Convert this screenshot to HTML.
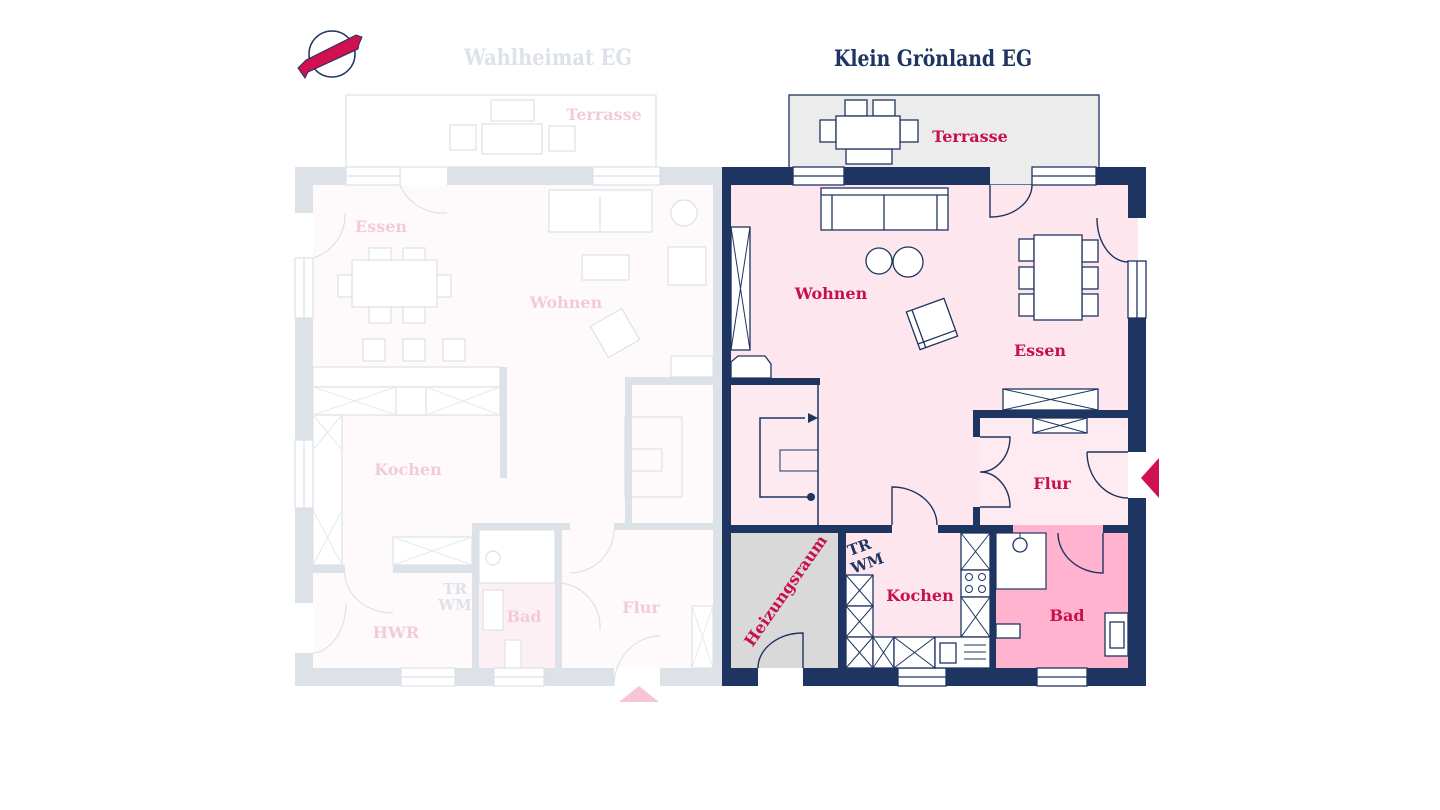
<!DOCTYPE html>
<html><head><meta charset="utf-8"><style>
html,body{margin:0;padding:0;background:#fff;}
svg{display:block;}
.t{font-family:"DejaVu Serif","Liberation Serif",serif;font-weight:bold;}
</style></head><body>
<svg width="1440" height="810" viewBox="0 0 1440 810" xmlns="http://www.w3.org/2000/svg">
<!-- logo -->
<circle cx="332" cy="54" r="23" fill="none" stroke="#1e3461" stroke-width="1.5"/>
<polygon points="298,68 306,60 356,35 362,37 359,44 358,49 308,72 305,78" fill="#d0104f" stroke="#1e3461" stroke-width="1"/>
<!-- titles -->
<text x="548" y="65" text-anchor="middle" class="t" font-size="22" fill="#dde1e8" textLength="168" lengthAdjust="spacingAndGlyphs">Wahlheimat EG</text>
<text x="933" y="66" text-anchor="middle" class="t" font-size="22" fill="#1e3461" textLength="198" lengthAdjust="spacingAndGlyphs">Klein Grönland EG</text>

<!-- ============ LEFT (faded) ============ -->
<g stroke="#dde1e8" fill="none" stroke-width="1.2">
<rect x="346" y="95" width="310" height="72" fill="#fff"/>
<rect x="313" y="185" width="400" height="483" fill="#fefafb" stroke="none"/>
<rect x="479" y="583" width="76" height="85" fill="#fdf0f4" stroke="none"/>
</g>
<g fill="#dde1e8">
<rect x="295" y="167" width="51" height="18"/>
<rect x="447" y="167" width="146" height="18"/>
<rect x="660" y="167" width="62" height="18"/>
<rect x="295" y="167" width="18" height="46"/>
<rect x="295" y="318" width="18" height="122"/>
<rect x="295" y="508" width="18" height="95"/>
<rect x="295" y="653" width="18" height="33"/>
<rect x="295" y="668" width="106" height="18"/>
<rect x="455" y="668" width="39" height="18"/>
<rect x="544" y="668" width="70" height="18"/>
<rect x="660" y="668" width="62" height="18"/>
<rect x="500" y="367" width="7" height="111"/>
<rect x="625" y="377" width="7" height="146"/>
<rect x="625" y="377" width="88" height="8"/>
<rect x="614" y="523" width="99" height="7"/>
<rect x="472" y="523" width="98" height="7"/>
<rect x="472" y="523" width="7" height="145"/>
<rect x="555" y="530" width="7" height="138"/>
<rect x="313" y="565" width="32" height="8"/>
<rect x="393" y="565" width="79" height="8"/>
<rect x="713" y="167" width="9" height="519"/>
</g>
<g stroke="#dde1e8" fill="#fff" stroke-width="1.2">
<rect x="346" y="167" width="54" height="18"/><line x1="346" y1="176" x2="400" y2="176"/>
<rect x="593" y="167" width="67" height="18"/><line x1="593" y1="176" x2="660" y2="176"/>
<rect x="295" y="258" width="18" height="60"/><line x1="304" y1="258" x2="304" y2="318"/>
<rect x="295" y="440" width="18" height="68"/><line x1="304" y1="440" x2="304" y2="508"/>
<rect x="401" y="668" width="54" height="18"/><line x1="401" y1="677" x2="455" y2="677"/>
<rect x="494" y="668" width="50" height="18"/><line x1="494" y1="677" x2="544" y2="677"/>
<rect x="491" y="100" width="43" height="21"/>
<rect x="482" y="124" width="60" height="30"/>
<rect x="450" y="125" width="26" height="25"/><rect x="549" y="126" width="26" height="25"/>
<rect x="549" y="190" width="103" height="42"/><line x1="600" y1="197" x2="600" y2="232"/>
<circle cx="684" cy="213" r="13"/>
<rect x="668" y="247" width="38" height="38"/>
<rect x="582" y="255" width="47" height="25"/>
<rect x="597" y="315" width="36" height="36" transform="rotate(-30 615 333)"/>
<rect x="352" y="260" width="85" height="47"/>
<rect x="369" y="248" width="22" height="12"/><rect x="403" y="248" width="22" height="12"/>
<rect x="369" y="307" width="22" height="16"/><rect x="403" y="307" width="22" height="16"/>
<rect x="338" y="275" width="14" height="22"/><rect x="437" y="275" width="14" height="22"/>
<rect x="363" y="339" width="22" height="22"/><rect x="403" y="339" width="22" height="22"/><rect x="443" y="339" width="22" height="22"/>
<rect x="313" y="367" width="187" height="20"/><rect x="313" y="387" width="187" height="28"/>
<rect x="396" y="387" width="30" height="28"/>
<rect x="313" y="415" width="29" height="150"/>
<rect x="393" y="537" width="79" height="28"/>
<rect x="479" y="530" width="76" height="53"/>
<circle cx="493" cy="558" r="7"/>
<rect x="483" y="590" width="20" height="40"/>
<rect x="505" y="640" width="16" height="28"/>
<rect x="692" y="606" width="21" height="62"/>
<rect x="625" y="417" width="57" height="80" fill="none"/>
<rect x="625" y="449" width="37" height="22" fill="none"/>
<rect x="671" y="356" width="42" height="21"/>
</g>
<g stroke="#e6e9ee" fill="none" stroke-width="1">
<line x1="313" y1="387" x2="396" y2="415"/><line x1="396" y1="387" x2="313" y2="415"/>
<line x1="426" y1="387" x2="500" y2="415"/><line x1="500" y1="387" x2="426" y2="415"/>
<line x1="313" y1="415" x2="342" y2="450"/><line x1="342" y1="415" x2="313" y2="450"/>
<line x1="313" y1="510" x2="342" y2="565"/><line x1="342" y1="510" x2="313" y2="565"/>
<line x1="393" y1="537" x2="472" y2="565"/><line x1="472" y1="537" x2="393" y2="565"/>
<line x1="692" y1="606" x2="713" y2="668"/><line x1="713" y1="606" x2="692" y2="668"/>
</g>
<g stroke="#dde1e8" fill="none" stroke-width="1.2">
<path d="M400,185 A47,47 0 0,0 447,213"/>
<path d="M313,258 A45,45 0 0,0 345,213"/>
<path d="M345,573 A48,40 0 0,0 393,613"/>
<path d="M313,653 A35,50 0 0,0 346,603"/>
<path d="M562,583 A45,45 0 0,1 600,630"/>
<path d="M570,573 A44,44 0 0,0 614,530"/>
<path d="M614,686 A46,50 0 0,1 660,636"/>
</g>
<polygon points="619,702 639,686 659,702" fill="#f7c5d6"/>
<g class="t" font-size="16" fill="#f3cbd8" text-anchor="middle">
<text x="604" y="120">Terrasse</text>
<text x="381" y="232">Essen</text>
<text x="566" y="308">Wohnen</text>
<text x="408" y="475">Kochen</text>
<text x="396" y="638">HWR</text>
<text x="524" y="622">Bad</text>
<text x="641" y="613">Flur</text>
</g>
<g class="t" font-size="15" fill="#dde1e8" text-anchor="middle">
<text x="455" y="594">TR</text><text x="455" y="610">WM</text>
</g>

<!-- ============ RIGHT ============ -->
<rect x="789" y="95" width="310" height="90" fill="#ececec" stroke="#1e3461" stroke-width="1.3"/>
<rect x="731" y="185" width="397" height="483" fill="#fde6ee"/>
<rect x="731" y="385" width="87" height="140" fill="#fdeaf0"/>
<rect x="980" y="418" width="148" height="107" fill="#fdebf1"/>
<rect x="1128" y="218" width="10" height="43" fill="#fde6ee"/>
<rect x="731" y="533" width="107" height="135" fill="#d9d9d9"/>
<rect x="996" y="533" width="132" height="135" fill="#ffb3cf"/>
<rect x="1013" y="525" width="90" height="8" fill="#ffb3cf"/>
<rect x="996" y="533" width="50" height="56" fill="#fff" stroke="#1e3461" stroke-width="1.2"/>
<g fill="#1e3461">
<rect x="722" y="167" width="71" height="18"/>
<rect x="844" y="167" width="146" height="18"/>
<rect x="1096" y="167" width="50" height="18"/>
<rect x="1128" y="167" width="18" height="51"/>
<rect x="1128" y="318" width="18" height="134"/>
<rect x="1128" y="498" width="18" height="188"/>
<rect x="722" y="167" width="9" height="519"/>
<rect x="722" y="668" width="36" height="18"/>
<rect x="803" y="668" width="95" height="18"/>
<rect x="946" y="668" width="91" height="18"/>
<rect x="1087" y="668" width="59" height="18"/>
<rect x="731" y="378" width="89" height="7"/>
<rect x="731" y="525" width="161" height="8"/>
<rect x="938" y="525" width="75" height="8"/>
<rect x="1103" y="525" width="25" height="8"/>
<rect x="973" y="410" width="155" height="8"/>
<rect x="973" y="410" width="7" height="27"/>
<rect x="973" y="507" width="7" height="18"/>
<rect x="838" y="533" width="8" height="135"/>
<rect x="990" y="533" width="6" height="135"/>
</g>
<g stroke="#1e3461" fill="#fff" stroke-width="1.3">
<rect x="793" y="167" width="51" height="18"/><line x1="793" y1="176" x2="844" y2="176"/>
<rect x="1032" y="167" width="64" height="18"/><line x1="1032" y1="176" x2="1096" y2="176"/>
<rect x="1128" y="261" width="18" height="57"/><line x1="1137" y1="261" x2="1137" y2="318"/>
<rect x="898" y="668" width="48" height="18"/><line x1="898" y1="677" x2="946" y2="677"/>
<rect x="1037" y="668" width="50" height="18"/><line x1="1037" y1="677" x2="1087" y2="677"/>
<rect x="845" y="100" width="22" height="16"/><rect x="873" y="100" width="22" height="16"/>
<rect x="820" y="120" width="16" height="22"/><rect x="900" y="120" width="18" height="22"/>
<rect x="846" y="149" width="46" height="15"/>
<rect x="836" y="116" width="64" height="33"/>
<rect x="821" y="188" width="127" height="42"/>
<line x1="821" y1="195" x2="948" y2="195"/>
<line x1="832" y1="195" x2="832" y2="230"/><line x1="937" y1="195" x2="937" y2="230"/>
<line x1="884" y1="195" x2="884" y2="230"/>
<circle cx="879" cy="261" r="13"/><circle cx="908" cy="262" r="15"/>
<g transform="rotate(-20 932 324)"><rect x="912" y="304" width="40" height="40"/><line x1="918" y1="304" x2="918" y2="344"/><line x1="912" y1="338" x2="952" y2="338"/></g>
<rect x="1019" y="239" width="15" height="22"/><rect x="1019" y="267" width="15" height="22"/><rect x="1019" y="294" width="15" height="22"/>
<rect x="1082" y="240" width="16" height="22"/><rect x="1082" y="267" width="16" height="22"/><rect x="1082" y="294" width="16" height="22"/>
<rect x="1034" y="235" width="48" height="85"/>
<rect x="731" y="227" width="19" height="123"/>
<polygon points="731,378 731,362 738,356 765,356 771,364 771,378"/>
<rect x="1003" y="389" width="95" height="21"/>
<rect x="1033" y="418" width="54" height="15"/>
<rect x="961" y="533" width="29" height="37"/>
<rect x="961" y="570" width="29" height="27"/>
<rect x="961" y="597" width="29" height="40"/>
<rect x="846" y="575" width="27" height="31"/>
<rect x="846" y="606" width="27" height="31"/>
<rect x="846" y="637" width="27" height="31"/>
<rect x="873" y="637" width="21" height="31"/>
<rect x="894" y="637" width="41" height="31"/>
<rect x="935" y="637" width="55" height="31"/>
<rect x="940" y="643" width="16" height="20"/>
<rect x="1105" y="613" width="23" height="43"/><rect x="1110" y="622" width="14" height="26"/>
<rect x="996" y="624" width="24" height="14"/>
<circle cx="1020" cy="545" r="7"/>
</g>
<g stroke="#1e3461" fill="none" stroke-width="1">
<line x1="731" y1="227" x2="750" y2="350"/><line x1="750" y1="227" x2="731" y2="350"/>
<line x1="1003" y1="389" x2="1098" y2="410"/><line x1="1098" y1="389" x2="1003" y2="410"/>
<line x1="1033" y1="418" x2="1087" y2="433"/><line x1="1087" y1="418" x2="1033" y2="433"/>
<line x1="961" y1="533" x2="990" y2="570"/><line x1="990" y1="533" x2="961" y2="570"/>
<line x1="961" y1="597" x2="990" y2="637"/><line x1="990" y1="597" x2="961" y2="637"/>
<line x1="846" y1="575" x2="873" y2="606"/><line x1="873" y1="575" x2="846" y2="606"/>
<line x1="846" y1="606" x2="873" y2="637"/><line x1="873" y1="606" x2="846" y2="637"/>
<line x1="846" y1="637" x2="873" y2="668"/><line x1="873" y1="637" x2="846" y2="668"/>
<line x1="873" y1="637" x2="894" y2="668"/><line x1="894" y1="637" x2="873" y2="668"/>
<line x1="894" y1="637" x2="935" y2="668"/><line x1="935" y1="637" x2="894" y2="668"/>
<line x1="964" y1="645" x2="986" y2="645"/><line x1="964" y1="652" x2="986" y2="652"/><line x1="964" y1="659" x2="986" y2="659"/>
<circle cx="969" cy="577" r="3.5"/><circle cx="982" cy="577" r="3.5"/><circle cx="969" cy="589" r="3.5"/><circle cx="982" cy="589" r="3.5"/>
<line x1="1020" y1="533" x2="1020" y2="538"/>
<rect x="780" y="450" width="38" height="21"/>
<polyline points="805,418 760,418 760,497 811,497" stroke-width="1.5"/>
<line x1="818" y1="385" x2="818" y2="525" stroke-width="1.5"/>
</g>
<polygon points="808,413 818,418 808,423" fill="#1e3461"/>
<circle cx="811" cy="497" r="4" fill="#1e3461"/>
<g stroke="#1e3461" fill="none" stroke-width="1.4">
<path d="M990,185 L990,217 A42,32 0 0,0 1032,185"/>
<path d="M1097,218 A31,44 0 0,0 1128,262"/>
<path d="M980,437 L1010,437 A30,35 0 0,1 980,472 A30,35 0 0,1 1010,507 L980,507"/>
<path d="M1087,452 L1128,452 M1087,452 A41,46 0 0,0 1128,498"/>
<path d="M892,525 L892,487 A45,38 0 0,1 937,525"/>
<path d="M1103,533 L1103,573 A45,40 0 0,1 1058,533"/>
<path d="M803,668 L803,633 A45,35 0 0,0 758,668"/>
</g>
<polygon points="1141,478 1159,458 1159,498" fill="#d0104f"/>
<g class="t" font-size="16" fill="#c8104e" text-anchor="middle">
<text x="970" y="142">Terrasse</text>
<text x="831" y="299">Wohnen</text>
<text x="1040" y="356">Essen</text>
<text x="1052" y="489">Flur</text>
<text x="920" y="601">Kochen</text>
<text x="1067" y="621">Bad</text>
<text x="786" y="596" transform="rotate(-55 786 591)">Heizungsraum</text>
</g>
<g class="t" font-size="15" fill="#1e3461" text-anchor="middle">
<text x="861" y="552" transform="rotate(-20 861 552)">TR</text>
<text x="869" y="568" transform="rotate(-20 869 568)">WM</text>
</g>
</svg>
</body></html>
